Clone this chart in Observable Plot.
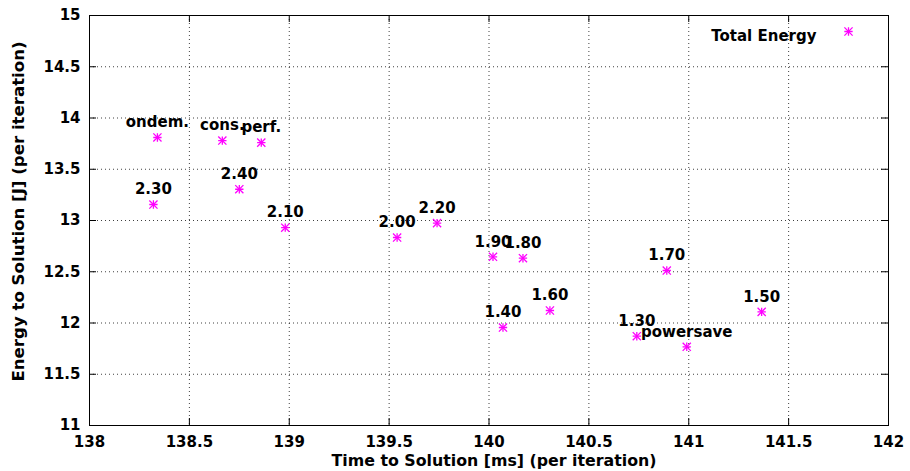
<!DOCTYPE html>
<html><head><meta charset="utf-8">
<script src="https://cdn.jsdelivr.net/npm/d3@7"></script>
<script src="https://cdn.jsdelivr.net/npm/@observablehq/plot@0.6"></script>
<style>body{margin:0;background:#fff} svg{display:block} svg text{font-weight:bold}</style>
</head><body><div id="chart"></div>
<script>
const labels = ["ondem.","cons.","perf.","2.40","2.30","2.10","2.00","2.20","1.90","1.80","1.60","1.40","1.70","1.50","1.30","powersave"];
const timeMs = [138.34,138.665,138.86,138.75,138.32,138.98,139.54,139.74,140.02,140.17,140.305,140.07,140.89,141.365,140.74,140.99];
const energyJ = [13.81,13.78,13.76,13.305,13.156,12.93,12.834,12.974,12.646,12.632,12.122,11.956,12.512,12.109,11.871,11.768];
const xTicks = [138,138.5,139,139.5,140,140.5,141,141.5,142];
const yTicks = [11,11.5,12,12.5,13,13.5,14,14.5,15];
const legendLabel = "Total Energy";
const xTitle = "Time to Solution [ms] (per iteration)";
const yTitle = "Energy to Solution [J] (per iteration)";

const xGrid = xTicks.slice(1, -1);
const yGrid = yTicks.slice(1, -1);
const points = labels.map((label, i) => ({label, time: timeMs[i], energy: energyJ[i]}));
const magenta = "#ff00ff";
const fmt = d => String(d);
const W = 910, H = 471, ML = 89, MR = 22, MT = 15, MB = 46;
const FW = W - ML - MR, FH = H - MT - MB, TL = 7;

const chart = Plot.plot({
  width: W, height: H, marginLeft: ML, marginRight: MR, marginTop: MT, marginBottom: MB,
  style: {fontFamily: "'DejaVu Sans', Verdana, sans-serif", fontWeight: "bold", fontSize: "15px", color: "#000", background: "#fff"},
  x: {domain: [138, 142]},
  y: {domain: [11, 15]},
  marks: [
    Plot.ruleX(xGrid, {x: d => d, stroke: "#000", strokeDasharray: "1,3", strokeOpacity: 0.75}),
    Plot.ruleY(yGrid, {y: d => d, stroke: "#000", strokeDasharray: "1,3", strokeOpacity: 0.75}),
    Plot.tickX(xTicks, {x: d => d, insetTop: FH - TL, stroke: "#000"}),
    Plot.tickX(xTicks, {x: d => d, insetBottom: FH - TL, stroke: "#000"}),
    Plot.tickY(yTicks, {y: d => d, insetRight: FW - TL, stroke: "#000"}),
    Plot.tickY(yTicks, {y: d => d, insetLeft: FW - TL, stroke: "#000"}),
    Plot.axisX({ticks: xTicks, tickSize: 0, tickPadding: 11, tickFormat: fmt, label: null, fontSize: 15, fontWeight: "bold"}),
    Plot.axisY({ticks: yTicks, tickSize: 0, tickPadding: 9, tickFormat: fmt, label: null, fontSize: 15, fontWeight: "bold"}),
    Plot.text([xTitle], {frameAnchor: "bottom", dx: 5, dy: 35, textAnchor: "middle", lineAnchor: "middle", fontSize: 15.8, fontWeight: "bold", fill: "#000"}),
    Plot.text([yTitle], {frameAnchor: "left", rotate: -90, dx: -71, dy: -9, textAnchor: "middle", lineAnchor: "middle", fontSize: 16.6, fontWeight: "bold", fill: "#000"}),
    Plot.frame({stroke: "#000", strokeWidth: 1}),
    Plot.dot(points, {x: "time", y: "energy", symbol: "plus", r: 2.8, stroke: magenta, fill: "none", strokeWidth: 1.3}),
    Plot.dot(points, {x: "time", y: "energy", symbol: "times", r: 3.8, stroke: magenta, fill: "none", strokeWidth: 1.3}),
    Plot.text(points, {x: "time", y: "energy", text: "label", dy: -15, fontSize: 15, fontWeight: "bold", fill: "#000"}),
    Plot.text([legendLabel], {frameAnchor: "top-right", dx: -72, dy: 15, textAnchor: "end", fontSize: 15, fontWeight: "bold", fill: "#000"}),
    Plot.dot([legendLabel], {frameAnchor: "top-right", dx: -40, dy: 16, symbol: "plus", r: 2.8, stroke: magenta, fill: "none", strokeWidth: 1.3}),
    Plot.dot([legendLabel], {frameAnchor: "top-right", dx: -40, dy: 16, symbol: "times", r: 3.8, stroke: magenta, fill: "none", strokeWidth: 1.3})
  ]
});
document.getElementById("chart").appendChild(chart);
</script></body></html>
